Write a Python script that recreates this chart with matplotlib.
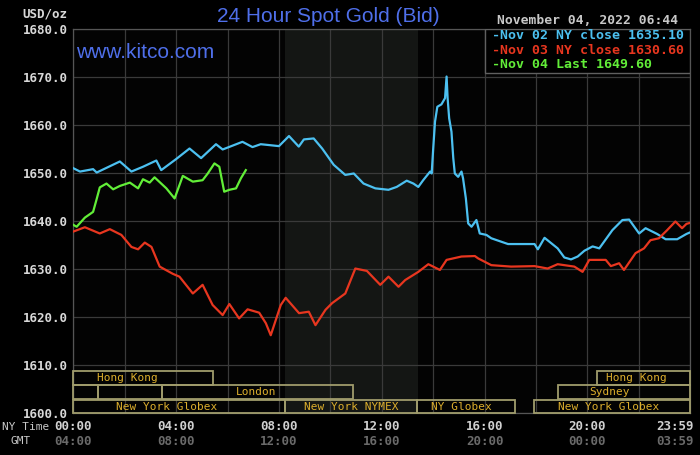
import matplotlib
matplotlib.use("Agg")
import matplotlib.pyplot as plt
from matplotlib.patches import Rectangle

# NY time (hours) and price
nov02_horas = [0.00, 0.26, 0.77, 0.91, 1.81, 2.26, 2.71, 3.23, 3.42, 4.00, 4.52, 4.97,
               5.55, 5.81, 6.58, 6.97, 7.29, 8.00, 8.39, 8.77, 8.97, 9.35, 9.68, 10.13,
               10.58, 10.91, 11.29, 11.75, 12.26, 12.58, 12.97, 13.23, 13.42, 13.61, 13.88,
               13.94, 14.00, 14.07, 14.16, 14.32, 14.46, 14.52, 14.56, 14.62, 14.71, 14.78,
               14.84, 14.97, 15.10, 15.16, 15.27, 15.36, 15.49, 15.68, 15.81, 16.07, 16.26,
               16.91, 17.94, 18.07, 18.33, 18.84, 19.10, 19.36, 19.62, 19.88, 20.20, 20.46,
               20.97, 21.36, 21.62, 22.01, 22.26, 22.71, 23.04, 23.49, 23.85, 23.98]
nov02_precio = [1651.0, 1650.3, 1650.8, 1650.1, 1652.4, 1650.3, 1651.3, 1652.6, 1650.6, 1652.9,
                1655.1, 1653.1, 1656.0, 1654.9, 1656.5, 1655.4, 1656.0, 1655.6, 1657.7, 1655.5,
                1657.0, 1657.2, 1655.1, 1651.7, 1649.6, 1649.9, 1647.8, 1646.8, 1646.5, 1647.1,
                1648.4, 1647.8, 1647.1, 1648.5, 1650.3, 1649.9, 1655.1, 1660.7, 1663.8, 1664.3,
                1665.6, 1670.1, 1665.6, 1661.4, 1658.6, 1653.1, 1649.9, 1649.2, 1650.3, 1648.9,
                1644.7, 1639.5, 1638.8, 1640.2, 1637.4, 1637.1, 1636.4, 1635.2, 1635.2, 1634.1,
                1636.5, 1634.3, 1632.4, 1632.0, 1632.6, 1633.8, 1634.7, 1634.3, 1638.1, 1640.2,
                1640.3, 1637.4, 1638.5, 1637.3, 1636.2, 1636.2, 1637.3, 1637.6]

nov03_horas = [0.00, 0.45, 1.03, 1.42, 1.87, 2.26, 2.52, 2.78, 3.04, 3.36, 3.87, 4.13, 4.65,
               5.03, 5.42, 5.81, 6.07, 6.45, 6.78, 7.23, 7.49, 7.68, 8.07, 8.26, 8.78, 9.16,
               9.42, 9.81, 10.07, 10.58, 10.97, 11.42, 11.94, 12.26, 12.65, 12.91, 13.42,
               13.81, 14.26, 14.52, 15.10, 15.62, 15.75, 16.26, 17.03, 17.94, 18.45, 18.84,
               19.49, 19.81, 20.07, 20.71, 20.91, 21.23, 21.42, 21.87, 22.20, 22.45, 22.78,
               23.10, 23.42, 23.68, 23.85, 23.98]
nov03_precio = [1637.8, 1638.7, 1637.4, 1638.3, 1637.1, 1634.6, 1634.1, 1635.5, 1634.6, 1630.5,
                1629.0, 1628.4, 1624.9, 1626.7, 1622.5, 1620.4, 1622.7, 1619.7, 1621.6, 1620.9,
                1618.7, 1616.2, 1622.5, 1624.0, 1620.8, 1621.1, 1618.3, 1621.5, 1622.9, 1624.9,
                1630.1, 1629.6, 1626.7, 1628.4, 1626.3, 1627.7, 1629.4, 1631.0, 1629.8, 1631.9,
                1632.6, 1632.7, 1632.2, 1630.8, 1630.5, 1630.6, 1630.1, 1631.0, 1630.5, 1629.4,
                1631.9, 1631.9, 1630.6, 1631.2, 1629.8, 1633.3, 1634.3, 1636.0, 1636.4, 1638.1,
                1639.9, 1638.5, 1639.4, 1639.6]

nov04_horas = [0.00, 0.13, 0.45, 0.77, 0.90, 1.03, 1.29, 1.55, 1.81, 2.20, 2.52, 2.71, 2.97,
               3.16, 3.62, 3.94, 4.26, 4.65, 5.03, 5.23, 5.49, 5.68, 5.87, 6.07, 6.33, 6.52, 6.71]
nov04_precio = [1639.2, 1638.8, 1640.7, 1641.9, 1644.4, 1647.0, 1647.8, 1646.6, 1647.3, 1648.0,
                1646.8, 1648.7, 1648.0, 1649.1, 1646.8, 1644.7, 1649.4, 1648.2, 1648.5, 1649.9,
                1652.0, 1651.3, 1646.1, 1646.5, 1646.8, 1648.9, 1650.6]

leyenda = ["-Nov 02 NY close 1635.10", "-Nov 03 NY close 1630.60", "-Nov 04 Last 1649.60"]

# trading sessions: name, start, end, row (0 = top), label position
sesiones = [
    ("Hong Kong", 0.0, 5.45, 0, 2.12),
    ("", 0.0, 0.97, 1, None),
    ("", 0.97, 3.46, 1, None),
    ("London", 3.46, 10.87, 1, 7.11),
    ("New York Globex", 0.0, 8.22, 2, 3.62),
    ("New York NYMEX", 8.22, 13.38, 2, 10.80),
    ("NY Globex", 13.38, 17.20, 2, 15.10),
    ("New York Globex", 17.91, 24.0, 2, 20.84),
    ("Sydney", 18.87, 24.0, 1, 20.84),
    ("Hong Kong", 20.36, 24.0, 0, 21.90),
]

ny_ticks = ["00:00", "04:00", "08:00", "12:00", "16:00", "20:00"]
gmt_ticks = ["04:00", "08:00", "12:00", "16:00", "20:00", "00:00"]

azul = "#4cc0f0"
rojo = "#e8361f"
verde = "#62ee38"
titulo_azul = "#4f6fea"
mono = "DejaVu Sans Mono"

fig = plt.figure(figsize=(7, 4.55), dpi=100, facecolor="black")
ax = fig.add_axes([73.3 / 700, 42 / 455, 617 / 700, 384 / 455])
ax.set_facecolor("#030303")

# NYMEX open shading
ax.axvspan(8.22, 13.42, color="#141614", zorder=0, lw=0)

ax.plot(nov02_horas, nov02_precio, color=azul, lw=1.6, zorder=3)
ax.plot(nov03_horas, nov03_precio, color=rojo, lw=1.6, zorder=3)
ax.plot(nov04_horas, nov04_precio, color=verde, lw=1.6, zorder=3)

ax.set_xlim(0, 24)
ax.set_ylim(1600, 1680)
ax.set_xticks(range(0, 25, 2))
ax.set_xticklabels([])
ax.set_yticks(range(1600, 1681, 10))
ax.set_yticklabels([f"{v:.1f}" for v in range(1600, 1681, 10)],
                   fontfamily=mono, fontweight="bold", fontsize=9, color="#d8d8d8")
ax.tick_params(length=0, pad=4)
ax.set_axisbelow(True)
ax.grid(True, color="#3a3a3a", lw=0.9)
for s in ax.spines.values():
    s.set_color("#555555")
    s.set_linewidth(0.9)

# session boxes
filas = [(1605.9, 1608.8), (1602.9, 1605.8), (1600.0, 1602.7)]
for nombre, ini, fin, fila, xt in sesiones:
    y0, y1 = filas[fila]
    ax.add_patch(Rectangle((ini, y0), fin - ini, y1 - y0, fill=False,
                           edgecolor="#a09c6c", lw=1.3, zorder=4, clip_on=False))
    if nombre:
        ax.text(xt, (y0 + y1) / 2, nombre, ha="center", va="center", fontsize=8,
                fontfamily=mono, color="#dcae2c", zorder=5)

# legend box
ax.add_patch(Rectangle((0.667, 0.886), 0.333, 0.114, transform=ax.transAxes,
                       facecolor="black", edgecolor="#606060", lw=1, zorder=6))
for txt, col, yy in zip(leyenda, [azul, rojo, verde], [0.983, 0.945, 0.908]):
    ax.text(0.678, yy, txt, transform=ax.transAxes, ha="left", va="center",
            fontsize=9.5, fontfamily=mono, fontweight="bold", color=col, zorder=7)

# time labels below the axis
xt = ax.get_xaxis_transform()
for i, (ny, gmt) in enumerate(zip(ny_ticks, gmt_ticks)):
    ax.text(i * 4, -0.034, ny, transform=xt, ha="center", va="center", fontsize=9,
            fontfamily=mono, fontweight="bold", color="#d0d0d0")
    ax.text(i * 4, -0.073, gmt, transform=xt, ha="center", va="center", fontsize=9,
            fontfamily=mono, fontweight="bold", color="#6a6a6a")
ax.text(24.15, -0.034, "23:59", transform=xt, ha="right", va="center", fontsize=9,
        fontfamily=mono, fontweight="bold", color="#d0d0d0")
ax.text(24.15, -0.073, "03:59", transform=xt, ha="right", va="center", fontsize=9,
        fontfamily=mono, fontweight="bold", color="#6a6a6a")

fig.text(2 / 700, 1 - 427 / 455, "NY Time", ha="left", va="center", fontsize=8,
         fontfamily=mono, color="#c8c8c8")
fig.text(21 / 700, 1 - 441 / 455, "GMT", ha="center", va="center", fontsize=8,
         fontfamily=mono, color="#c8c8c8")

# header
fig.text(67.7 / 700, 1 - 14 / 455, "USD/oz", ha="right", va="center", fontsize=9,
         fontfamily=mono, fontweight="bold", color="#d8d8d8")
fig.text(328 / 700, 1 - 17 / 455, "24 Hour Spot Gold (Bid)", ha="center", va="center",
         fontsize=15, fontfamily="Liberation Sans", color=titulo_azul)
fig.text(678 / 700, 1 - 21 / 455, "November 04, 2022 06:44", ha="right", va="center",
         fontsize=9.4, fontfamily=mono, fontweight="bold", color="#c8c8c8")
fig.text(76 / 700, 1 - 53 / 455, "www.kitco.com", ha="left", va="center",
         fontsize=15, fontfamily="Liberation Sans", color=titulo_azul)

fig.savefig("out.png", dpi=100, facecolor="black")
